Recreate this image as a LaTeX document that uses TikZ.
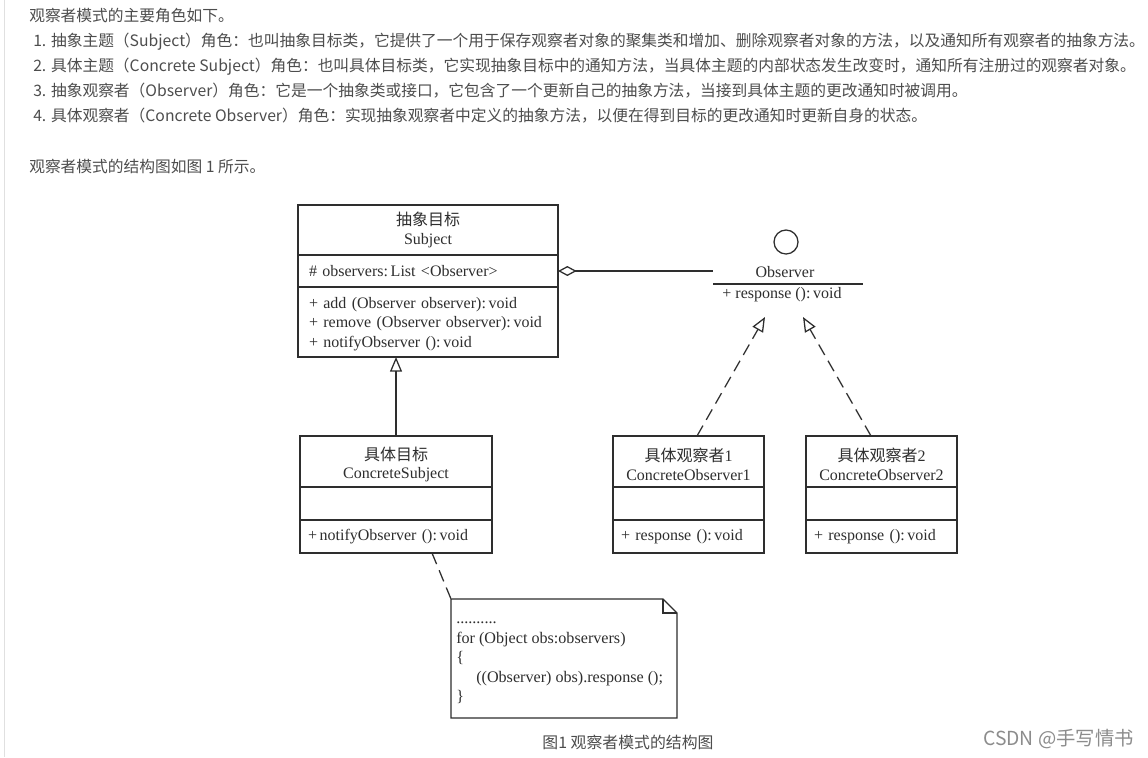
\documentclass[tikz,border=0pt]{standalone}
\usepackage{fontspec}
\setmainfont{Liberation Serif}
\newfontfamily\cjk{Noto Sans CJK SC}
\usetikzlibrary{arrows.meta,positioning,calc}
\definecolor{inkgray}{HTML}{2E2E2E}
\definecolor{bodygray}{HTML}{4D4D4D}
\tikzset{
    %Define style for class compartments
    block/.style 2 args={
           rectangle,
           draw=inkgray,
           line width=0.95pt,
           text=inkgray,
           outer sep=0pt,
           inner xsep=6pt,
           inner ysep=0pt,
           text width=#1,
           minimum height=#2,
           font=\fontsize{12}{14.6}\selectfont},
    title/.style={align=center},
    member/.style={align=left},
    wide/.style={inner xsep=8.25pt},
    % Define style for the page text
    line/.style={
           anchor=west,
           inner sep=0pt,
           text height=10pt,
           text depth=3pt,
           text=bodygray,
           font=\cjk\fontsize{11.8}{14}\selectfont},
    % Define arrow styles
    assoc/.style={
           line width=0.95pt,
           draw=inkgray,
           {Diamond[open,length=14pt,width=7.5pt]}-},
    inherit/.style={
           line width=0.95pt,
           draw=inkgray,
           -{Triangle[open,length=11pt,width=9pt]}},
    realize/.style={
           inherit,
           dash pattern=on 9pt off 5pt},
    noteline/.style={
           line width=0.95pt,
           draw=inkgray,
           dash pattern=on 9pt off 5pt}
}
\begin{document}
\begin{tikzpicture}[x=0.75pt, y=-0.75pt]
    \useasboundingbox (0,0) rectangle (1148,757);
    \fill[white] (0,0) rectangle (1148,757);
    \draw[black!12, line width=1pt] (4.5,0) -- (4.5,757);

    % page text
    \node [line] (head) at (29,17) {观察者模式的主要角色如下。};
    \node [line] (role1) at (33,42) {1. 抽象主题（Subject）角色：也叫抽象目标类，它提供了一个用于保存观察者对象的聚集类和增加、删除观察者对象的方法，以及通知所有观察者的抽象方法。};
    \node [line] (role2) at (33,67) {2. 具体主题（Concrete Subject）角色：也叫具体目标类，它实现抽象目标中的通知方法，当具体主题的内部状态发生改变时，通知所有注册过的观察者对象。};
    \node [line] (role3) at (33,92) {3. 抽象观察者（Observer）角色：它是一个抽象类或接口，它包含了一个更新自己的抽象方法，当接到具体主题的更改通知时被调用。};
    \node [line] (role4) at (33,117) {4. 具体观察者（Concrete Observer）角色：实现抽象观察者中定义的抽象方法，以便在得到目标的更改通知时更新自身的状态。};
    \node [line] (lead) at (29,168) {观察者模式的结构图如图 1 所示。};

    % abstract subject
    \node [block={178.5pt}{37.5pt}, wide, title, anchor=north west] (Subj) at (298,205) {{\cjk 抽象目标}\\[-0.8pt]Subject};
    \node [block={178.5pt}{24pt}, wide, member, below=0pt of Subj] (SubjAttr) {\# observers:\,List <Observer>};
    \node [block={178.5pt}{52.5pt}, wide, member, below=0pt of SubjAttr] (SubjOps) {\rule{0pt}{11pt}+ add (Observer observer):\,void\\+ remove (Observer observer):\,void\\+ notifyObserver ():\,void};

    % concrete subject
    \node [block={132pt}{38.25pt}, title, anchor=north west] (CSubj) at (300,436) {\rule{0pt}{14.5pt}{\cjk 具体目标}\\[-0.8pt]ConcreteSubject};
    \node [block={132pt}{24.75pt}, member, below=0pt of CSubj] (CSubjAttr) {};
    \node [block={132pt}{24.75pt}, member, below=0pt of CSubjAttr] (CSubjOps) {+\,notifyObserver ():\,void};

    % concrete observers
    \node [block={101.25pt}{38.25pt}, title, anchor=north west] (CObsA) at (613,436) {\rule{0pt}{14.5pt}{\cjk 具体观察者}1\\[-0.8pt]ConcreteObserver1};
    \node [block={101.25pt}{24.75pt}, member, below=0pt of CObsA] (CObsAAttr) {};
    \node [block={101.25pt}{24.75pt}, member, below=0pt of CObsAAttr] (CObsAOps) {+ response ():\,void};
    \node [block={101.25pt}{38.25pt}, title, anchor=north west] (CObsB) at (806,436) {\rule{0pt}{14.5pt}{\cjk 具体观察者}2\\[-0.8pt]ConcreteObserver2};
    \node [block={101.25pt}{24.75pt}, member, below=0pt of CObsB] (CObsBAttr) {};
    \node [block={101.25pt}{24.75pt}, member, below=0pt of CObsBAttr] (CObsBOps) {+ response ():\,void};

    % observer interface
    \node [circle, draw=inkgray, line width=0.95pt, minimum size=18pt, inner sep=0pt] (ObsIcon) at (786,242) {};
    \node [text=inkgray, inner sep=0pt, font=\fontsize{12}{14}\selectfont] (ObsName) at (785,272) {Observer};
    \coordinate (ObsLineL) at (713,284);
    \coordinate (ObsLineR) at (863,284);
    \draw [line width=0.95pt, draw=inkgray] (ObsLineL) -- (ObsLineR);
    \node [text=inkgray, inner sep=0pt, font=\fontsize{12}{14}\selectfont] (ObsOps) at (782,295) {+ response ():\,void};

    % note
    \node [rectangle, minimum width=169.5pt, minimum height=89.25pt, anchor=north west, outer sep=0pt] (Note) at (451,599) {};
    \draw [line width=0.95pt, draw=inkgray, line join=miter]
        (Note.north west) -- ($(Note.north east)+(-14,0)$) -- ($(Note.north east)+(0,14)$) -- (Note.south east) -- (Note.south west) -- cycle;
    \draw [line width=0.95pt, draw=inkgray]
        ($(Note.north east)+(-14,0)$) |- ($(Note.north east)+(0,14)$);
    \node [anchor=north west, inner sep=0pt, align=left, text=inkgray, font=\fontsize{12.1}{14.6}\selectfont] (NoteText) at (456,622)
        {..........\\for (Object obs:observers)\\\{\\\hspace*{15pt}((Observer) obs).response ();\\\}};

    % connectors
    \coordinate (SubjEnd) at (396,357);
    \coordinate (CSubjTop) at (396,436);
    \coordinate (ArrowA) at (765,317);
    \coordinate (ArrowB) at (803,317);
    \coordinate (CObsATop) at (697,436);
    \coordinate (CObsBTop) at (871,436);
    \coordinate (CSubjFoot) at (432,553);
    \draw [assoc] (SubjAttr.east) -- (ObsLineL |- SubjAttr.east);
    \draw [inherit] (CSubjTop) -- (SubjEnd);
    \draw [realize] (CObsATop) -- (ArrowA);
    \draw [realize] (CObsBTop) -- (ArrowB);
    \draw [noteline] (CSubjFoot) -- (Note.north west);

    % caption and mark
    \node [line, anchor=center, font=\cjk\fontsize{11.9}{14}\selectfont] (caption) at (628,744) {图1 观察者模式的结构图};
    \node [line, anchor=east, text=black!45, font=\cjk\fontsize{14.5}{16}\selectfont] (mark) at (1134,741) {CSDN @手写情书};
\end{tikzpicture}
\end{document}
